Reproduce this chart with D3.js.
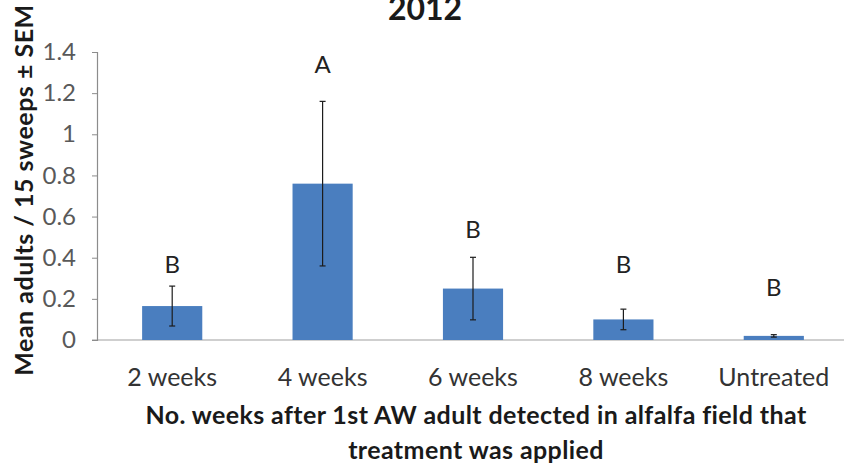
<!DOCTYPE html>
<html>
<head>
<meta charset="utf-8">
<script src="https://cdn.jsdelivr.net/npm/d3@7"></script>
<style>
  body { margin: 0; background: #fff; }
  text { font-family: Lato, "Open Sans", sans-serif; }
</style>
</head>
<body>
<div id="chart"></div>
<script>
// data
var categories = ["2 weeks", "4 weeks", "6 weeks", "8 weeks", "Untreated"];
var means = [0.165, 0.76, 0.25, 0.10, 0.02];
var sems = [0.097, 0.40, 0.152, 0.05, 0.006];
var letters = ["B", "A", "B", "B", "B"];
var letterLevels = [0.37, 1.345, 0.54, 0.372, 0.258];
var yTicks = [0, 0.2, 0.4, 0.6, 0.8, 1, 1.2, 1.4];

const w = 844, h = 468;
const plotLeft = 97, plotRight = 849, plotTop = 52, plotBottom = 340;

var svg = d3.select("#chart").append("svg")
  .attr("width", w).attr("height", h);

var x = d3.scaleBand().domain(categories)
  .range([plotLeft, plotRight]).paddingInner(0.6).paddingOuter(0.3);
var y = d3.scaleLinear().domain([0, 1.4]).range([plotBottom, plotTop]);

// baseline
svg.append("line")
  .attr("x1", plotLeft - 5).attr("x2", w)
  .attr("y1", y(0)).attr("y2", y(0))
  .attr("stroke", "#bfbfbf").attr("stroke-width", 1.5);

// y axis
var yAxis = svg.append("g")
  .attr("transform", "translate(" + plotLeft + ",0)")
  .call(d3.axisLeft(y).tickValues(yTicks).tickSizeOuter(0).tickSize(5).tickPadding(16)
    .tickFormat(function(d) { return String(+d.toFixed(1)); }));
yAxis.select(".domain").attr("stroke", "#8c8c8c").attr("stroke-width", 1.2);
yAxis.selectAll(".tick line").attr("stroke", "#8c8c8c");
yAxis.selectAll(".tick text")
  .attr("fill", "#595959").style("font-size", "24px");

// bars
svg.selectAll("rect.bar")
  .data(means).enter().append("rect")
  .attr("class", "bar")
  .attr("x", function(d, i) { return x(categories[i]); })
  .attr("y", function(d) { return y(d); })
  .attr("width", x.bandwidth())
  .attr("height", function(d) { return y(0) - y(d); })
  .attr("fill", "#4a7ebf");

// error bars
var err = svg.selectAll("g.err")
  .data(means).enter().append("g")
  .attr("class", "err")
  .attr("stroke", "#1c1c1c").attr("stroke-width", 1.2);
err.append("line")
  .attr("x1", function(d, i) { return x(categories[i]) + x.bandwidth() / 2; })
  .attr("x2", function(d, i) { return x(categories[i]) + x.bandwidth() / 2; })
  .attr("y1", function(d, i) { return y(d + sems[i]); })
  .attr("y2", function(d, i) { return y(d - sems[i]); });
[1, -1].forEach(function(s) {
  err.append("line")
    .attr("x1", function(d, i) { return x(categories[i]) + x.bandwidth() / 2 - 3; })
    .attr("x2", function(d, i) { return x(categories[i]) + x.bandwidth() / 2 + 3; })
    .attr("y1", function(d, i) { return y(d + s * sems[i]); })
    .attr("y2", function(d, i) { return y(d + s * sems[i]); });
});

// significance letters
svg.selectAll("text.letter")
  .data(letters).enter().append("text")
  .attr("class", "letter")
  .text(function(d) { return d; })
  .attr("text-anchor", "middle")
  .attr("dominant-baseline", "central")
  .attr("x", function(d, i) { return x(categories[i]) + x.bandwidth() / 2; })
  .attr("y", function(d, i) { return y(letterLevels[i]); })
  .attr("fill", "#222")
  .style("font-size", "24px");

// category labels
svg.selectAll("text.cat")
  .data(categories).enter().append("text")
  .attr("class", "cat")
  .text(function(d) { return d; })
  .attr("text-anchor", "middle")
  .attr("x", function(d) { return x(d) + x.bandwidth() / 2; })
  .attr("y", 386)
  .attr("fill", "#333")
  .style("font-size", "25px");

// x title
var xt = svg.append("text")
  .attr("text-anchor", "middle")
  .attr("fill", "#1a1a1a")
  .style("font-size", "25px").style("font-weight", "bold")
  .style("letter-spacing", "0.4px");
xt.append("tspan").attr("x", 476).attr("y", 424)
  .text("No. weeks after 1st AW adult detected in alfalfa field that");
xt.append("tspan").attr("x", 476).attr("y", 459)
  .text("treatment was applied");

// y title
svg.append("text")
  .attr("transform", "translate(33,190) rotate(-90)")
  .attr("text-anchor", "middle")
  .attr("fill", "#1a1a1a")
  .style("font-size", "25px").style("font-weight", "bold")
  .style("letter-spacing", "0.5px")
  .text("Mean adults / 15 sweeps \u00b1 SEM");

// chart title
svg.append("text")
  .attr("x", 425).attr("y", 20)
  .attr("text-anchor", "middle")
  .attr("fill", "#1a1a1a")
  .style("font-size", "32px").style("font-weight", "bold")
  .text("2012");
</script>
</body>
</html>
